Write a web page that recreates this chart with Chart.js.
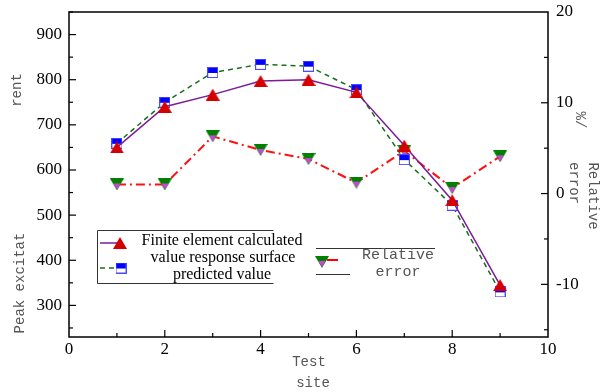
<!DOCTYPE html>
<html>
<head>
<meta charset="utf-8">
<script src="https://cdn.jsdelivr.net/npm/chart.js@4/dist/chart.umd.min.js"></script>
<style>
  html, body { margin: 0; padding: 0; background: #fff; }
  #wrap { width: 600px; height: 392px; }
</style>
</head>
<body>
<div id="wrap"><canvas id="chart"></canvas></div>
<script>
// data
var sites = [1, 2, 3, 4, 5, 6, 7, 8, 9];
var finiteElement = [650, 740, 767, 797, 800, 772, 654, 533, 345];
var responseSurface = [659, 750, 816, 834, 830, 778, 623, 522, 330];
var relativeError = [1.0, 1.0, 6.3, 4.8, 3.8, 1.2, 4.7, 0.6, 4.1];

var xTicks = [0, 2, 4, 6, 8, 10];
var leftTicks = [300, 400, 500, 600, 700, 800, 900];
var rightTicks = [-10, 0, 10, 20];

var serif = '"Liberation Serif", "Times New Roman", serif';
var mono = '"Liberation Mono", "Courier New", monospace';

// marker images
function makeTri() {
    var c = document.createElement('canvas');
    c.width = 14; c.height = 12;
    var g = c.getContext('2d');
    g.fillStyle = '#d40000';
    g.beginPath(); g.moveTo(7, 0); g.lineTo(14, 12); g.lineTo(0, 12); g.closePath(); g.fill();
    return c;
}
function makeSquare() {
    var c = document.createElement('canvas');
    c.width = 11; c.height = 11;
    var g = c.getContext('2d');
    g.fillStyle = '#fff'; g.fillRect(0, 0, 11, 11);
    g.fillStyle = '#0000ff'; g.fillRect(0, 0, 11, 6);
    g.strokeStyle = '#4b4bff'; g.lineWidth = 1;
    g.strokeRect(0.5, 0.5, 10, 10);
    return c;
}
function makeInvTri() {
    var c = document.createElement('canvas');
    c.width = 14; c.height = 12;
    var g = c.getContext('2d');
    g.fillStyle = '#008000';
    g.beginPath(); g.moveTo(0, 0); g.lineTo(14, 0); g.lineTo(7, 12); g.closePath(); g.fill();
    g.fillStyle = '#cc44dd';
    g.beginPath(); g.moveTo(3.5, 5); g.lineTo(10.5, 5); g.lineTo(7, 11); g.closePath(); g.fill();
    return c;
}
var triImg = makeTri();
var sqImg = makeSquare();
var invImg = makeInvTri();

function pts(ys) {
    return sites.map(function (x, i) { return { x: x, y: ys[i] }; });
}

function drawText(ctx, txt, x, y, font, color, rot) {
    ctx.save();
    ctx.translate(x, y);
    if (rot) ctx.rotate(rot);
    ctx.font = font;
    ctx.fillStyle = color;
    ctx.textAlign = 'center';
    ctx.textBaseline = 'middle';
    ctx.fillText(txt, 0, 0);
    ctx.restore();
}

function line(ctx, x1, y1, x2, y2) {
    ctx.beginPath(); ctx.moveTo(x1, y1); ctx.lineTo(x2, y2); ctx.stroke();
}

function noPad(s) {
    s.paddingTop = 0; s.paddingBottom = 0; s.paddingLeft = 0; s.paddingRight = 0;
}

// frame, inward ticks, titles and legend
var decor = {
    id: 'decor',
    beforeDatasetsDraw: function (chart) {
        var ctx = chart.ctx, a = chart.chartArea;
        var sx = chart.scales.x, sl = chart.scales.y, sr = chart.scales.y2;
        ctx.save();
        ctx.strokeStyle = '#000';
        ctx.lineWidth = 1.5;
        ctx.strokeRect(a.left, a.top, a.right - a.left, a.bottom - a.top);
        ctx.lineWidth = 1.2;
        for (var v = 1; v <= 9; v++) {
            var px = sx.getPixelForValue(v);
            line(ctx, px, a.bottom, px, a.bottom - (v % 2 ? 4 : 7));
        }
        for (var v = 250; v <= 950; v += 50) {
            var py = sl.getPixelForValue(v);
            line(ctx, a.left, py, a.left + (v % 100 ? 4 : 7), py);
        }
        for (var v = -15; v <= 15; v += 5) {
            var py = sr.getPixelForValue(v);
            line(ctx, a.right, py, a.right - (v % 10 ? 4 : 7), py);
        }
        ctx.restore();
    },
    afterDraw: function (chart) {
        var ctx = chart.ctx;
        var grey = '#555';
        var mfont = '14px ' + mono;
        ctx.save();
        // axis titles
        drawText(ctx, 'Test', 309, 362, mfont, grey, 0);
        drawText(ctx, 'site', 313, 383, mfont, grey, 0);
        drawText(ctx, 'Peak excitat', 20, 283, mfont, grey, -Math.PI / 2);
        drawText(ctx, 'rent', 17, 90, mfont, grey, -Math.PI / 2);
        drawText(ctx, '%/', 580, 120, mfont, grey, Math.PI / 2);
        drawText(ctx, 'Relative', 593, 196, mfont, grey, Math.PI / 2);
        drawText(ctx, 'error', 574, 183, mfont, grey, Math.PI / 2);

        // legend box
        ctx.strokeStyle = '#333';
        ctx.lineWidth = 1;
        ctx.beginPath();
        ctx.moveTo(273.5, 230.5); ctx.lineTo(97.5, 230.5); ctx.lineTo(97.5, 283.5); ctx.lineTo(273.5, 283.5);
        ctx.stroke();
        // finite element entry
        ctx.strokeStyle = '#7d1a9a'; ctx.lineWidth = 1.5; ctx.setLineDash([]);
        line(ctx, 100, 243, 118, 243);
        ctx.drawImage(triImg, 120 - 7, 243 - 6);
        // response surface entry
        ctx.strokeStyle = '#1a6e1a'; ctx.setLineDash([5, 4]);
        line(ctx, 100, 268, 116, 268);
        ctx.setLineDash([]);
        ctx.drawImage(sqImg, 121 - 5.5, 268 - 5.5);
        var sfont = '16px ' + serif;
        drawText(ctx, 'Finite element calculated', 222, 241, sfont, '#000', 0);
        drawText(ctx, 'value response surface', 223, 258, sfont, '#000', 0);
        drawText(ctx, 'predicted value', 222, 275, sfont, '#000', 0);

        // relative error entry
        ctx.strokeStyle = '#333'; ctx.lineWidth = 1;
        line(ctx, 316, 248.5, 435, 248.5);
        line(ctx, 316, 274.5, 350, 274.5);
        ctx.strokeStyle = '#ff0000'; ctx.lineWidth = 2;
        line(ctx, 327, 260, 338, 260);
        ctx.drawImage(invImg, 322 - 7, 262 - 6);
        drawText(ctx, 'Relative', 398, 255, '15px ' + mono, grey, 0);
        drawText(ctx, 'error', 398, 272, '15px ' + mono, grey, 0);
        ctx.restore();
    }
};

var ctx = document.getElementById('chart').getContext('2d');
var chart = new Chart(ctx, {
    type: 'scatter',
    data: {
        datasets: [
            {
                label: 'Finite element calculated value',
                data: pts(finiteElement),
                yAxisID: 'y',
                showLine: true,
                borderColor: '#7d1a9a',
                borderWidth: 1.5,
                pointStyle: triImg,
                order: 1
            },
            {
                label: 'response surface predicted value',
                data: pts(responseSurface),
                yAxisID: 'y',
                showLine: true,
                borderColor: '#1a6e1a',
                borderWidth: 1.5,
                borderDash: [5, 4],
                pointStyle: sqImg,
                order: 2
            },
            {
                label: 'Relative error',
                data: pts(relativeError),
                yAxisID: 'y2',
                showLine: true,
                borderColor: '#ff1010',
                borderWidth: 2,
                borderDash: [9, 4, 2, 4],
                pointStyle: invImg,
                order: 3
            }
        ]
    },
    options: {
        responsive: true,
        maintainAspectRatio: false,
        animation: false,
        layout: { padding: { top: 12, left: 0, right: 0, bottom: 0 } },
        plugins: {
            legend: { display: false },
            tooltip: { enabled: false }
        },
        scales: {
            x: {
                type: 'linear',
                min: 0,
                max: 10,
                grid: { display: false, drawTicks: false },
                border: { display: false },
                afterBuildTicks: function (s) { s.ticks = xTicks.map(function (v) { return { value: v }; }); },
                afterFit: function (s) { s.height = 55; noPad(s); },
                ticks: { padding: 2, color: '#000', font: { family: serif, size: 17 }, maxRotation: 0 }
            },
            y: {
                position: 'left',
                min: 230,
                max: 950,
                grid: { display: false, drawTicks: false },
                border: { display: false },
                afterBuildTicks: function (s) { s.ticks = leftTicks.map(function (v) { return { value: v }; }); },
                afterFit: function (s) { s.width = 69; noPad(s); },
                ticks: { padding: 7, color: '#000', font: { family: serif, size: 17 } }
            },
            y2: {
                position: 'right',
                min: -15.8,
                max: 20,
                grid: { display: false, drawTicks: false },
                border: { display: false },
                afterBuildTicks: function (s) { s.ticks = rightTicks.map(function (v) { return { value: v }; }); },
                afterFit: function (s) { s.width = 52; noPad(s); },
                ticks: { padding: 8, color: '#000', font: { family: serif, size: 17 } }
            }
        }
    },
    plugins: [decor]
});
</script>
</body>
</html>
